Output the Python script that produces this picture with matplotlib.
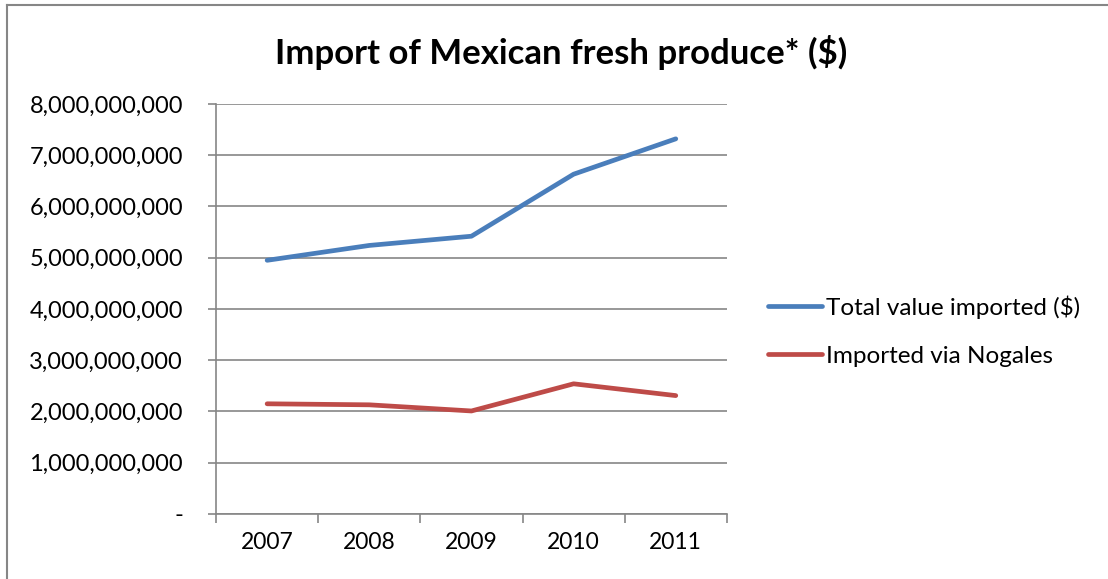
import matplotlib
matplotlib.use("Agg")
import matplotlib.pyplot as plt
from matplotlib.lines import Line2D
from matplotlib.ticker import FuncFormatter, FixedLocator, NullFormatter

plt.rcParams['font.family'] = ['Lato', 'DejaVu Sans']

years = ["2007", "2008", "2009", "2010", "2011"]
total_value = [4.95e9, 5.24e9, 5.42e9, 6.63e9, 7.32e9]
via_nogales = [2.15e9, 2.13e9, 2.01e9, 2.54e9, 2.31e9]

BLUE = "#4A7EBB"
RED = "#BE4B48"
GRID = "#868686"
LABEL_SIZE = 16.5

fig = plt.figure(figsize=(11.08, 5.79), dpi=100)
ax = fig.add_axes([0.195, 0.1123, 0.461, 0.7081])

x = list(range(len(years)))
ax.plot(x, total_value, color=BLUE, lw=3.4, solid_capstyle='round',
        solid_joinstyle='round', label="Total value imported ($)")
ax.plot(x, via_nogales, color=RED, lw=3.4, solid_capstyle='round',
        solid_joinstyle='round', label="Imported via Nogales")

ax.set_xlim(-0.5, len(years) - 0.5)
ax.set_ylim(0, 8e9)
ax.set_yticks([i * 1e9 for i in range(9)])
ax.yaxis.set_major_formatter(
    FuncFormatter(lambda v, p: "-" if v == 0 else f"{int(v):,}"))

# category labels centred, tick marks on category boundaries
ax.set_xticks(x)
ax.set_xticklabels(years)
ax.tick_params(axis='x', which='major', length=0, pad=13)
ax.xaxis.set_minor_locator(FixedLocator([i - 0.5 for i in range(len(years) + 1)]))
ax.xaxis.set_minor_formatter(NullFormatter())
ax.tick_params(axis='x', which='minor', length=6.5, width=1.2, color=GRID,
               direction='out')
ax.tick_params(axis='y', length=5.8, width=1.2, color=GRID, direction='out', pad=18)
ax.tick_params(labelsize=LABEL_SIZE, labelcolor='black')
for lbl in ax.get_yticklabels():
    lbl.set_fontsize(17)

ax.grid(axis='y', color=GRID, lw=1.2)
ax.set_axisbelow(True)
for s in ['top', 'right']:
    ax.spines[s].set_visible(False)
for s in ['left', 'bottom']:
    ax.spines[s].set_color(GRID)
    ax.spines[s].set_linewidth(1.2)

fig.text(0.506, 0.91, "Import of Mexican fresh produce* ($)", ha='center',
         va='center', fontsize=25, fontweight='bold')

handles = [Line2D([], [], color=BLUE, lw=3.4, solid_capstyle='round'),
           Line2D([], [], color=RED, lw=3.4, solid_capstyle='round')]
fig.legend(handles, ["Total value imported ($)", "Imported via Nogales"],
           loc='center left', bbox_to_anchor=(0.6733, 0.428), frameon=False,
           fontsize=17.5, handlelength=2.22, handletextpad=0.16,
           labelspacing=1.11)

# outer chart border
fig.add_artist(Line2D([0.0059, 0.0059], [0, 0.9922], color=GRID, lw=1.5,
                      transform=fig.transFigure))
fig.add_artist(Line2D([0.0059, 1.0], [0.9922, 0.9922], color=GRID, lw=1.5,
                      transform=fig.transFigure))

fig.savefig("out.png", dpi=100)
